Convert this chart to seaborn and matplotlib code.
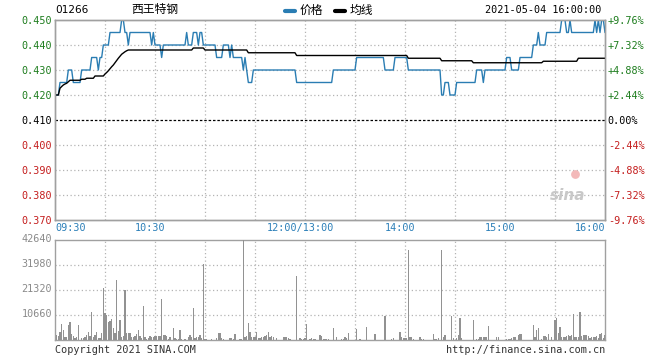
import numpy as np
import pandas as pd
import matplotlib
matplotlib.use("Agg")
import matplotlib.pyplot as plt
import seaborn as sns
from matplotlib.transforms import ScaledTranslation
from matplotlib.lines import Line2D

# ---------------- data ----------------
stock_code = "01266"
stock_name = "西王特钢"
timestamp = "2021-05-04 16:00:00"
prev_close = 0.410

# price as (level, minutes) runs, minute 0 = 09:30, 150 = 12:00/13:00, 330 = 16:00
price_levels = [0.420, 0.425, 0.430, 0.425, 0.430, 0.435, 0.430, 0.435, 0.440, 0.445,
                0.450, 0.445, 0.440, 0.445, 0.440, 0.445, 0.440, 0.435, 0.440, 0.445,
                0.440, 0.445, 0.440, 0.445, 0.440, 0.435, 0.440, 0.435, 0.440, 0.435,
                0.430, 0.435, 0.430, 0.425, 0.430, 0.425, 0.430, 0.435, 0.430, 0.435,
                0.430, 0.420, 0.425, 0.420, 0.425, 0.430, 0.425, 0.430, 0.435, 0.430,
                0.435, 0.440, 0.445, 0.440, 0.445, 0.450, 0.445, 0.450, 0.445, 0.450,
                0.445, 0.450, 0.445, 0.450, 0.445]
price_runs = [3, 5, 3, 5, 6, 4, 1, 2, 4, 7,
              2, 2, 1, 13, 1, 1, 4, 1, 14, 1,
              3, 3, 1, 2, 8, 4, 4, 1, 1, 6,
              1, 1, 1, 3, 26, 22, 14, 17, 6, 8,
              20, 2, 3, 4, 12, 4, 1, 13, 3, 5,
              8, 3, 1, 4, 9, 3, 2, 1, 14, 1,
              1, 1, 1, 2, 1]

avg_levels = [0.4200, 0.4227, 0.4234, 0.4240, 0.4244, 0.4247, 0.4253, 0.4259, 0.4263, 0.4267,
              0.4276, 0.4284, 0.4290, 0.4297, 0.4305, 0.4313, 0.4320, 0.4329, 0.4338, 0.4347,
              0.4355, 0.4363, 0.4368, 0.4373, 0.4377, 0.4380, 0.4388, 0.4380, 0.4369, 0.4358,
              0.4347, 0.4337, 0.4329, 0.4335, 0.4347]
avg_runs = [3, 1, 1, 1, 1, 1, 1, 7, 3, 5,
            6, 1, 1, 1, 1, 1, 1, 1, 1, 1,
            1, 1, 1, 1, 1, 39, 7, 26, 29, 67,
            20, 19, 42, 21, 17]

volume_by_minute = {
    1: 2140, 2: 1710, 3: 3570, 4: 6850, 5: 4280, 6: 1140, 7: 1140, 8: 6420, 9: 7700,
    10: 2570, 11: 1710, 12: 1000, 13: 1140, 14: 6420, 16: 1000, 17: 1000, 18: 1140,
    19: 2140, 20: 3570, 21: 1710, 22: 12100, 23: 1140, 24: 2140, 25: 3570, 26: 710,
    27: 1000, 28: 3140, 29: 22100, 30: 11400, 31: 10700, 32: 7840, 33: 8270, 34: 8980,
    35: 5280, 36: 3140, 37: 25400, 38: 4000, 39: 8560, 40: 1140, 41: 1710, 42: 21400,
    43: 3140, 44: 2850, 45: 3140, 46: 1140, 47: 1140, 48: 1710, 49: 2570, 50: 4280,
    51: 1710, 52: 710, 53: 14500, 54: 1140, 55: 570, 56: 710, 57: 1710, 58: 1430,
    59: 1140, 60: 1710, 61: 1710, 62: 1710, 63: 1710, 64: 17500, 65: 2140, 66: 2140,
    67: 1710, 68: 570, 69: 1430, 71: 5130, 72: 710, 73: 570, 74: 570, 75: 4280,
    76: 570, 78: 570, 80: 1430, 81: 2140, 82: 1430, 83: 13700, 84: 710, 85: 1140,
    86: 1430, 87: 2140, 88: 710, 89: 32500, 90: 570, 91: 285, 94: 285, 97: 710,
    98: 3140, 99: 2850, 100: 710, 101: 285, 105: 710, 106: 710, 107: 570, 108: 2570,
    111: 570, 112: 570, 113: 42640, 114: 1140, 115: 1710, 116: 7400, 117: 3570,
    118: 1430, 119: 1430, 120: 1430, 121: 3570, 122: 710, 123: 710, 124: 1140,
    125: 1430, 126: 1710, 127: 2140, 128: 3570, 129: 1430, 130: 1710, 131: 1140,
    133: 710, 137: 1140, 138: 1430, 139: 1140, 140: 710, 141: 570, 145: 27400,
    147: 710, 148: 570, 149: 570, 150: 710, 151: 6850, 153: 570, 154: 850, 155: 570,
    156: 570, 159: 2140, 160: 1710, 161: 570, 162: 570, 163: 570, 164: 570,
    167: 5000, 169: 1140, 172: 430, 173: 430, 174: 1140, 175: 710, 176: 2850,
    181: 4700, 183: 430, 187: 5420, 192: 2570, 198: 10400, 202: 430, 203: 710,
    207: 3300, 208: 1140, 209: 1000, 210: 1000, 211: 850, 212: 38500, 213: 1140,
    214: 1140, 215: 570, 219: 1430, 220: 570, 221: 430, 227: 2430, 228: 430,
    229: 430, 230: 710, 232: 38500, 233: 1140, 234: 2000, 238: 10400, 239: 710,
    241: 710, 242: 2140, 243: 9270, 244: 710, 251: 8560, 253: 430, 254: 430,
    255: 1140, 256: 1140, 257: 1140, 258: 1140, 259: 1140, 260: 6000, 265: 1140,
    266: 1140, 271: 430, 272: 430, 273: 430, 274: 710, 275: 1140, 276: 1140,
    278: 2140, 279: 2430, 280: 2430, 287: 6420, 288: 1140, 289: 4280, 290: 5000,
    292: 430, 293: 1710, 294: 1710, 295: 1430, 296: 2570, 298: 1140, 300: 8560,
    301: 9270, 302: 2850, 303: 5700, 304: 1430, 305: 1140, 306: 1140, 307: 1710,
    308: 2140, 309: 1710, 310: 2140, 311: 11000, 312: 1140, 313: 1140, 314: 1430,
    315: 11800, 316: 1710, 317: 2140, 318: 2140, 319: 2140, 320: 1710, 321: 710,
    322: 1140, 323: 1430, 324: 1140, 325: 1710, 326: 710, 327: 2570, 328: 2850,
    329: 710, 330: 2140,
}

price_ticks = [0.450, 0.440, 0.430, 0.420, 0.410, 0.400, 0.390, 0.380, 0.370]
price_labels = ["0.450", "0.440", "0.430", "0.420", "0.410", "0.400", "0.390", "0.380", "0.370"]
pct_labels = ["+9.76%", "+7.32%", "+4.88%", "+2.44%", "0.00%", "-2.44%", "-4.88%", "-7.32%", "-9.76%"]
vol_ticks = [10660, 21320, 31980, 42640]
vol_labels = ["10660", "21320", "31980", "42640"]
time_tick_pos = [0, 60, 150, 210, 270, 330]
time_labels = ["09:30", "10:30", "12:00/13:00", "14:00", "15:00", "16:00"]
grid_minutes = [30, 60, 90, 120, 150, 180, 210, 240, 270, 300]

# ---------------- build table ----------------
n_min = 331
minutes = np.arange(n_min)
price = np.repeat(price_levels, price_runs)
avg = np.repeat(avg_levels, avg_runs)
vol = np.zeros(n_min)
for k, v in volume_by_minute.items():
    vol[k] = v
df = pd.DataFrame({"minute": minutes, "price": price, "avg": avg, "volume": vol})

# ---------------- style ----------------
sns.set_theme(style="white")
plt.rcParams["font.family"] = ["DejaVu Sans Mono", "Noto Sans CJK SC"]
GREEN = "#1e7d1e"
RED = "#c41e1e"
BLUE = "#2a7db3"
GRID = "#b4b4b4"
FRAME = "#a0a0a0"
FS = 7.3

W, H = 660, 360
fig = plt.figure(figsize=(6.6, 3.6), dpi=100)
fig.patch.set_facecolor("white")
axp = fig.add_axes([55 / W, 140 / H, 550 / W, 200 / H])
axv = fig.add_axes([55 / W, 20 / H, 550 / W, 100 / H])

# price panel
for m in grid_minutes:
    axp.axvline(m, color=GRID, lw=0.9, ls=(0, (1, 2)), zorder=0)
    axv.axvline(m, color=GRID, lw=0.9, ls=(0, (1, 2)), zorder=0)
for t in price_ticks[1:-1]:
    if abs(t - prev_close) < 1e-9:
        axp.axhline(t, color="black", lw=0.9, ls=(0, (2, 1.5)), zorder=1)
    else:
        axp.axhline(t, color=GRID, lw=0.9, ls=(0, (1, 2)), zorder=0)

sns.lineplot(data=df, x="minute", y="price", ax=axp, color=BLUE, lw=1.0,
             estimator=None, zorder=3)
sns.lineplot(data=df, x="minute", y="avg", ax=axp, color="black", lw=1.0,
             estimator=None, zorder=4)
axp.set_xlim(0, 330)
axp.set_ylim(0.370, 0.450)
axp.set_xlabel("")
axp.set_ylabel("")
axp.set_yticks(price_ticks)
axp.set_yticklabels(price_labels, fontsize=FS)
axp.set_xticks(time_tick_pos)
axp.set_xticklabels(time_labels, fontsize=FS, color="#2b7fb8")
axp.tick_params(axis="both", length=0, pad=2)
for lab, t in zip(axp.get_yticklabels(), price_ticks):
    lab.set_color(GREEN if t > prev_close + 1e-9 else (RED if t < prev_close - 1e-9 else "black"))
xl = axp.get_xticklabels()
for i, lab in enumerate(xl):
    if i == 0:
        lab.set_ha("left")
    elif i == len(xl) - 1:
        lab.set_ha("right")
    else:
        lab.set_transform(lab.get_transform() + ScaledTranslation(-5 / 100, 0, fig.dpi_scale_trans))

axr = axp.twinx()
axr.set_ylim(0.370, 0.450)
axr.set_yticks(price_ticks)
axr.set_yticklabels(pct_labels, fontsize=FS)
axr.tick_params(axis="y", length=0, pad=2)
for lab, t in zip(axr.get_yticklabels(), price_ticks):
    lab.set_color(GREEN if t > prev_close + 1e-9 else (RED if t < prev_close - 1e-9 else "black"))
axr.grid(False)

for ax in (axp, axr, axv):
    for s in ax.spines.values():
        s.set_color(FRAME)
        s.set_linewidth(1.0)

# watermark
axp.text(0.965, 0.12, "sina", transform=axp.transAxes, ha="right", va="center",
         fontsize=11, fontstyle="italic", fontweight="bold", color="#c8c8c8",
         family="DejaVu Sans", zorder=0)
axp.scatter([0.945], [0.23], transform=axp.transAxes, s=40, color="#f3b9b9",
            zorder=0, linewidths=0)

# volume panel
for t in vol_ticks[:-1]:
    axv.axhline(t, color=GRID, lw=0.9, ls=(0, (1, 2)), zorder=0)
sns.barplot(data=df, x="minute", y="volume", ax=axv, native_scale=True,
            color="#929292", width=0.7, linewidth=0, errorbar=None,
            saturation=1, zorder=3)
axv.set_xlim(0, 330)
axv.set_ylim(0, 42640)
axv.set_xlabel("")
axv.set_ylabel("")
axv.set_xticks([])
axv.set_yticks(vol_ticks)
axv.set_yticklabels(vol_labels, fontsize=FS, color="#8a8a8a")
axv.tick_params(axis="y", length=0, pad=2)
for lab in axv.get_yticklabels():
    lab.set_transform(lab.get_transform() + ScaledTranslation(0, 2 / 100, fig.dpi_scale_trans))

# header / footer
def fx(x):
    return x / W

def fy(y):
    return 1 - y / H

fig.text(fx(55), fy(10), stock_code, ha="left", va="center", fontsize=7.6,
         family="DejaVu Sans", color="black")
fig.text(fx(131), fy(10), stock_name, ha="left", va="center", fontsize=8.5,
         family=["Noto Sans CJK SC", "DejaVu Sans"], color="black")
fig.add_artist(Line2D([fx(285), fx(295)], [fy(11), fy(11)], color=BLUE, lw=3,
                      transform=fig.transFigure))
fig.text(fx(300), fy(10), "价格", ha="left", va="center", fontsize=8.5,
         family=["Noto Sans CJK SC", "DejaVu Sans"], color="black")
fig.add_artist(Line2D([fx(335), fx(345)], [fy(11), fy(11)], color="black", lw=3,
                      transform=fig.transFigure))
fig.text(fx(350), fy(10), "均线", ha="left", va="center", fontsize=8.5,
         family=["Noto Sans CJK SC", "DejaVu Sans"], color="black")
fig.text(fx(601), fy(10), timestamp, ha="right", va="center", fontsize=FS,
         color="black")
fig.text(fx(55), fy(350), "Copyright 2021 SINA.COM", ha="left", va="center",
         fontsize=FS, color="#333333")
fig.text(fx(605), fy(350), "http://finance.sina.com.cn", ha="right", va="center",
         fontsize=FS, color="#333333")

fig.savefig("out.png", dpi=100, facecolor="white")
